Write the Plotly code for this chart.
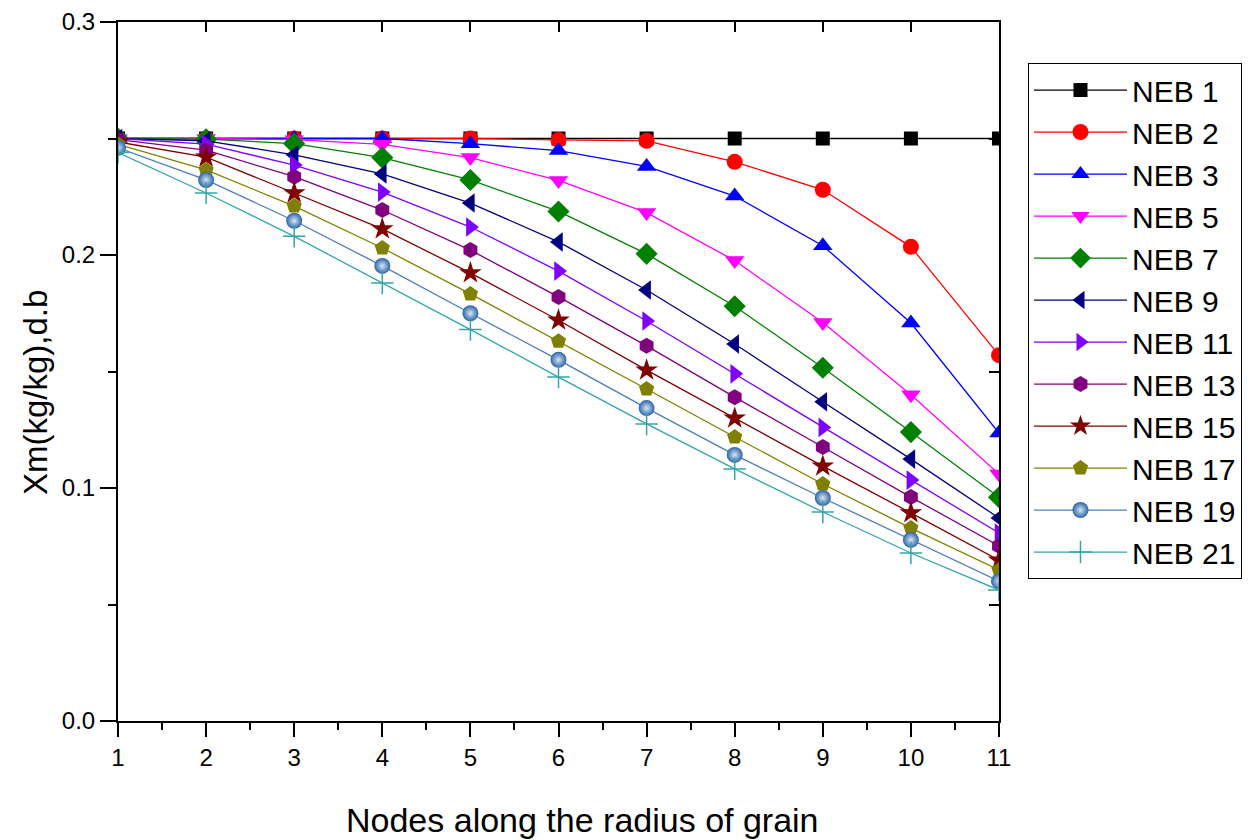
import plotly.graph_objects as go

nodes = [1, 2, 3, 4, 5, 6, 7, 8, 9, 10, 11]

neb1 = [0.250, 0.250, 0.250, 0.250, 0.250, 0.250, 0.250, 0.250, 0.250, 0.250, 0.250]
neb2 = [0.250, 0.250, 0.250, 0.250, 0.250, 0.2494, 0.249, 0.240, 0.228, 0.2035, 0.157]
neb3 = [0.250, 0.250, 0.250, 0.250, 0.2478, 0.2448, 0.238, 0.2253, 0.204, 0.1708, 0.1236]
neb5 = [0.250, 0.250, 0.2495, 0.2475, 0.2418, 0.2320, 0.2182, 0.1976, 0.1710, 0.1400, 0.1060]
neb7 = [0.250, 0.2497, 0.2478, 0.2418, 0.2322, 0.2187, 0.2005, 0.1780, 0.1516, 0.1240, 0.0960]
neb9 = [0.250, 0.2490, 0.2430, 0.2348, 0.2223, 0.2056, 0.1850, 0.1618, 0.1370, 0.1124, 0.0871]
neb11 = [0.250, 0.2476, 0.2386, 0.2270, 0.2120, 0.1931, 0.1717, 0.1490, 0.1260, 0.1034, 0.0807]
neb13 = [0.2495, 0.2450, 0.2336, 0.2193, 0.2021, 0.1820, 0.1610, 0.1390, 0.1176, 0.0961, 0.0751]
neb15 = [0.2485, 0.2420, 0.2266, 0.2112, 0.1923, 0.1720, 0.1506, 0.1300, 0.1094, 0.0893, 0.0690]
neb17 = [0.2475, 0.2365, 0.2210, 0.2030, 0.1833, 0.1630, 0.1425, 0.1219, 0.1017, 0.0828, 0.0648]
neb19 = [0.2460, 0.2322, 0.2147, 0.1953, 0.1750, 0.1550, 0.1343, 0.1142, 0.0957, 0.0777, 0.0600]
neb21 = [0.2440, 0.2266, 0.2080, 0.1880, 0.1680, 0.1476, 0.1275, 0.1082, 0.0897, 0.0721, 0.0562]

series_names = ["NEB 1", "NEB 2", "NEB 3", "NEB 5", "NEB 7", "NEB 9",
                "NEB 11", "NEB 13", "NEB 15", "NEB 17", "NEB 19", "NEB 21"]
series_values = [neb1, neb2, neb3, neb5, neb7, neb9, neb11, neb13, neb15, neb17, neb19, neb21]

x_tick_labels = ["1", "2", "3", "4", "5", "6", "7", "8", "9", "10", "11"]
y_tick_values = [0.0, 0.1, 0.2, 0.3]
y_tick_labels = ["0.0", "0.1", "0.2", "0.3"]

styles = [
    dict(line="#000000", marker="#000000", symbol="square", size=14),
    dict(line="#FF0000", marker="#FF0000", symbol="circle", size=16),
    dict(line="#0000FF", marker="#0000FF", symbol="triangle-up", size=17),
    dict(line="#FF00FF", marker="#FF00FF", symbol="triangle-down", size=17),
    dict(line="#008000", marker="#008000", symbol="diamond", size=17),
    dict(line="#000080", marker="#000080", symbol="triangle-left", size=17),
    dict(line="#8000FF", marker="#8000FF", symbol="triangle-right", size=17),
    dict(line="#800080", marker="#800080", symbol="hexagon", size=16),
    dict(line="#800000", marker="#800000", symbol="star", size=17),
    dict(line="#808000", marker="#808000", symbol="pentagon", size=16),
    dict(line="#4A7EBB", marker="#2C64A5", symbol="circle", size=16),
    dict(line="#33A6A6", marker="#33A6A6", symbol="cross-thin", size=16),
]

fig = go.Figure()
for name, vals, st in zip(series_names, series_values, styles):
    marker = dict(symbol=st["symbol"], size=st["size"], color=st["marker"],
                  line=dict(width=0, color=st["marker"]))
    if st["symbol"] == "cross-thin":
        marker["line"] = dict(width=1.5, color=st["marker"])
    if name == "NEB 19":
        marker["gradient"] = dict(type="radial", color="#D8E6F5")
    fig.add_trace(go.Scatter(
        x=nodes, y=vals, name=name, mode="lines+markers",
        line=dict(color=st["line"], width=1.3),
        marker=marker,
    ))

# invisible trace so the mirrored top/right axes are drawn
fig.add_trace(go.Scatter(x=[1, 11], y=[0, 0.3], xaxis="x2", yaxis="y2",
                         mode="markers", marker=dict(opacity=0), showlegend=False,
                         hoverinfo="skip"))

font_family = "Arial, Liberation Sans, sans-serif"

fig.update_layout(
    width=1252, height=832,
    paper_bgcolor="white", plot_bgcolor="white",
    margin=dict(l=110, r=261, t=14, b=119, autoexpand=False),
    font=dict(family=font_family, color="black", size=23),
    xaxis=dict(
        range=[1, 11], tickvals=nodes, ticktext=x_tick_labels,
        ticks="outside", ticklen=14, tickwidth=2, tickcolor="black",
        minor=dict(ticks="outside", ticklen=7, tickwidth=2, dtick=0.5, tickcolor="black"),
        showline=True, linewidth=2, linecolor="black", showgrid=False, zeroline=False,
        tickfont=dict(size=24, family=font_family, color="black"),
        automargin=False,
    ),
    yaxis=dict(
        range=[0, 0.3], tickvals=y_tick_values, ticktext=y_tick_labels,
        ticks="outside", ticklen=16, tickwidth=2, tickcolor="black",
        minor=dict(ticks="outside", ticklen=8, tickwidth=2, dtick=0.05, tickcolor="black"),
        showline=True, linewidth=2, linecolor="black", showgrid=False, zeroline=False,
        tickfont=dict(size=24, family=font_family, color="black"),
        automargin=False,
    ),
    xaxis2=dict(
        overlaying="x", side="top", range=[1, 11], tickvals=nodes,
        ticks="inside", ticklen=10, tickwidth=2, tickcolor="black",
        showticklabels=False, showline=True, linewidth=2, linecolor="black",
        showgrid=False, zeroline=False, automargin=False,
    ),
    yaxis2=dict(
        overlaying="y", side="right", range=[0, 0.3], tickvals=[0.05, 0.15, 0.25],
        ticks="inside", ticklen=10, tickwidth=2, tickcolor="black",
        showticklabels=False, showline=True, linewidth=2, linecolor="black",
        showgrid=False, zeroline=False, automargin=False,
    ),
    legend=dict(
        x=1.0329, y=0.9413, xanchor="left", yanchor="top",
        bgcolor="white", bordercolor="black", borderwidth=1,
        font=dict(size=30, family=font_family),
        tracegroupgap=0, itemwidth=93,
    ),
    showlegend=True,
    annotations=[
        dict(text="Nodes along the radius of grain", xref="paper", yref="paper",
             x=0.5278, y=-0.1416, xanchor="center", yanchor="middle",
             showarrow=False, font=dict(size=34)),
        dict(text="Xm(kg/kg),d.b", xref="paper", yref="paper",
             x=-0.0942, y=0.4692, xanchor="center", yanchor="middle",
             textangle=-90, showarrow=False, font=dict(size=33)),
    ],
)

fig.write_html("out.html")
